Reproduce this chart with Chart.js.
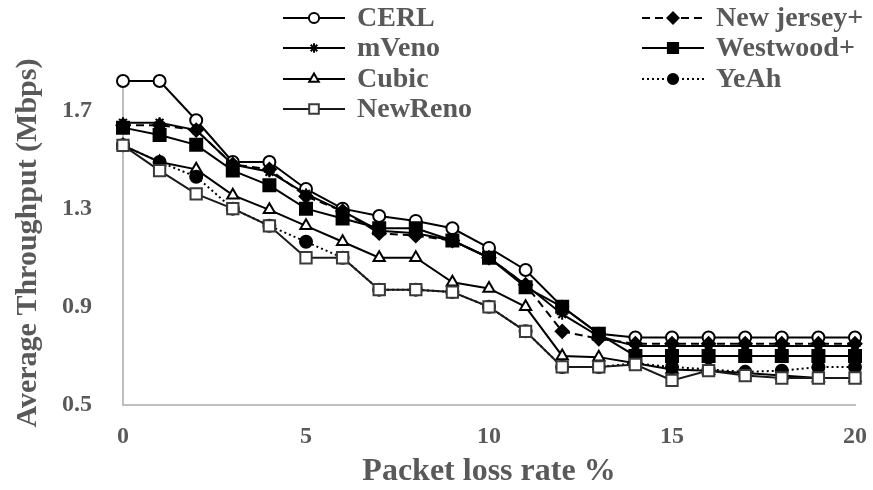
<!DOCTYPE html>
<html>
<head>
<meta charset="utf-8">
<script src="https://cdn.jsdelivr.net/npm/chart.js@4/dist/chart.umd.min.js"></script>
<style>
  html, body { margin: 0; padding: 0; background: #fff; }
  #chart { display: block; }
</style>
</head>
<body>
<canvas id="chart" width="873" height="490"></canvas>
<script>
// packet loss rate (%) on the x axis
var lossRate = [0, 1, 2, 3, 4, 5, 6, 7, 8, 9, 10, 11, 12, 13, 14, 15, 16, 17, 18, 19, 20];

// average throughput (Mbps) per protocol
var cerl      = [1.82, 1.82, 1.66, 1.49, 1.49, 1.38, 1.30, 1.27, 1.25, 1.22, 1.14, 1.05, 0.90, 0.79, 0.775, 0.775, 0.775, 0.775, 0.775, 0.775, 0.775];
var newJersey = [1.64, 1.64, 1.62, 1.48, 1.46, 1.35, 1.29, 1.20, 1.19, 1.17, 1.10, 0.99, 0.80, 0.77, 0.75, 0.75, 0.75, 0.75, 0.75, 0.75, 0.75];
var mVeno     = [1.65, 1.65, 1.62, 1.48, 1.45, 1.36, 1.29, 1.21, 1.20, 1.17, 1.10, 0.99, 0.87, 0.78, 0.74, 0.74, 0.74, 0.74, 0.74, 0.74, 0.74];
var westwood  = [1.63, 1.60, 1.56, 1.455, 1.395, 1.30, 1.26, 1.22, 1.22, 1.17, 1.10, 0.98, 0.90, 0.79, 0.70, 0.70, 0.70, 0.70, 0.70, 0.70, 0.70];
var cubic     = [1.558, 1.49, 1.46, 1.355, 1.295, 1.23, 1.165, 1.10, 1.10, 1.00, 0.975, 0.90, 0.70, 0.695, 0.67, 0.645, 0.64, 0.63, 0.62, 0.61, 0.61];
var yeah      = [1.558, 1.49, 1.43, 1.30, 1.23, 1.165, 1.10, 0.97, 0.97, 0.96, 0.90, 0.80, 0.655, 0.655, 0.67, 0.655, 0.645, 0.635, 0.64, 0.655, 0.655];
var newReno   = [1.558, 1.455, 1.36, 1.30, 1.23, 1.10, 1.10, 0.97, 0.97, 0.96, 0.90, 0.80, 0.655, 0.655, 0.665, 0.60, 0.64, 0.62, 0.61, 0.61, 0.61];

var xTicks = [0, 5, 10, 15, 20];
var yTicks = [0.5, 0.9, 1.3, 1.7];

var FONT = '"Liberation Serif", "Times New Roman", serif';
var TEXT = '#595959';

function pts(values) {
	return lossRate.map(function (x, i) { return { x: x, y: values[i] }; });
}

function series(label, values, opt) {
	return Object.assign({
		label: label,
		data: pts(values),
		borderColor: '#000',
		borderWidth: 2,
		pointBorderColor: '#000',
		pointBorderWidth: 2,
		pointRadius: 5.5,
		pointHoverRadius: 5.5,
		tension: 0,
		clip: false,
		fill: false
	}, opt);
}

// order: higher number is drawn first, so the later series sits on top (like Excel)
var datasets = [
	series('CERL', cerl, { pointStyle: 'circle', pointRadius: 6, pointBackgroundColor: '#fff', order: 7 }),
	series('mVeno', mVeno, { pointStyle: 'star', pointRadius: 5.5, pointBackgroundColor: '#000', order: 5 }),
	series('Cubic', cubic, { pointStyle: 'triangle', pointRadius: 6.5, pointBackgroundColor: '#fff', order: 3 }),
	series('NewReno', newReno, { pointStyle: 'rect', pointRadius: 8, pointBackgroundColor: '#fff', pointBorderColor: '#3a3a3a', borderColor: '#1a1a1a', order: 1 }),
	series('New jersey+', newJersey, { pointStyle: 'rectRot', pointRadius: 6.5, pointBackgroundColor: '#000', borderDash: [8, 5], order: 6 }),
	series('Westwood+', westwood, { pointStyle: 'rect', pointRadius: 8.5, pointBackgroundColor: '#000', order: 4 }),
	series('YeAh', yeah, { pointStyle: 'circle', pointRadius: 6, pointBackgroundColor: '#000', borderDash: [2, 3], order: 2 })
];

// two-column legend drawn on the canvas, line sample + marker + label
var legendSpots = [
	{ x: 283, y: 18 }, { x: 283, y: 48 }, { x: 283, y: 79 }, { x: 283, y: 109 },
	{ x: 642, y: 18 }, { x: 642, y: 48 }, { x: 642, y: 79 }
];

var legendPlugin = {
	id: 'twoColLegend',
	afterDraw: function (chart) {
		var ctx = chart.ctx;
		chart.data.datasets.forEach(function (ds, i) {
			var p = legendSpots[i];
			ctx.save();
			ctx.strokeStyle = ds.borderColor;
			ctx.lineWidth = 2;
			ctx.setLineDash(ds.borderDash || []);
			ctx.beginPath();
			ctx.moveTo(p.x, p.y);
			ctx.lineTo(p.x + 62, p.y);
			ctx.stroke();
			ctx.setLineDash([]);
			ctx.fillStyle = ds.pointBackgroundColor;
			ctx.strokeStyle = ds.pointBorderColor;
			ctx.lineWidth = 2;
			Chart.helpers.drawPoint(ctx, {
				pointStyle: ds.pointStyle,
				radius: ds.pointRadius * 0.85,
				borderWidth: 2,
				rotation: 0
			}, p.x + 31, p.y);
			ctx.fillStyle = TEXT;
			ctx.font = 'bold 28px ' + FONT;
			ctx.textBaseline = 'middle';
			ctx.textAlign = 'left';
			ctx.fillText(ds.label, p.x + 74, p.y + 1);
			ctx.restore();
		});
	}
};

var ctx = document.getElementById('chart').getContext('2d');

new Chart(ctx, {
	type: 'line',
	data: { datasets: datasets },
	plugins: [legendPlugin],
	options: {
		responsive: false,
		animation: false,
		layout: { padding: { top: 81, right: 18, left: 0, bottom: 0 } },
		plugins: {
			legend: { display: false },
			tooltip: { enabled: false }
		},
		scales: {
			x: {
				type: 'linear',
				min: 0,
				max: 20,
				afterBuildTicks: function (s) { s.ticks = xTicks.map(function (v) { return { value: v }; }); },
				afterFit: function (s) {
					s.height = 85;
					s.paddingLeft = 0;
					s.paddingRight = 0;
				},
				grid: { display: false, drawTicks: false },
				border: { display: true, color: '#bfbfbf', width: 2 },
				ticks: {
					color: TEXT,
					padding: 17,
					maxRotation: 0,
					font: { family: FONT, size: 24, weight: 'bold' }
				},
				title: {
					display: true,
					text: 'Packet loss rate %',
					color: TEXT,
					font: { family: FONT, size: 32, weight: 'bold', lineHeight: 1 },
					padding: { top: 0, bottom: 2 }
				}
			},
			y: {
				min: 0.5,
				max: 1.82,
				afterBuildTicks: function (s) { s.ticks = yTicks.map(function (v) { return { value: v }; }); },
				afterFit: function (s) {
					s.width = 123;
					s.paddingTop = 0;
					s.paddingBottom = 0;
				},
				grid: { display: false, drawTicks: false },
				border: { display: true, color: '#bfbfbf', width: 2 },
				ticks: {
					color: TEXT,
					padding: 31,
					font: { family: FONT, size: 24, weight: 'bold' },
					callback: function (v) { return v.toFixed(1); }
				},
				title: {
					display: true,
					text: 'Average Throughput (Mbps)',
					color: TEXT,
					font: { family: FONT, size: 30, weight: 'bold', lineHeight: 1 },
					padding: { top: 13, bottom: 0 }
				}
			}
		}
	}
});
</script>
</body>
</html>
